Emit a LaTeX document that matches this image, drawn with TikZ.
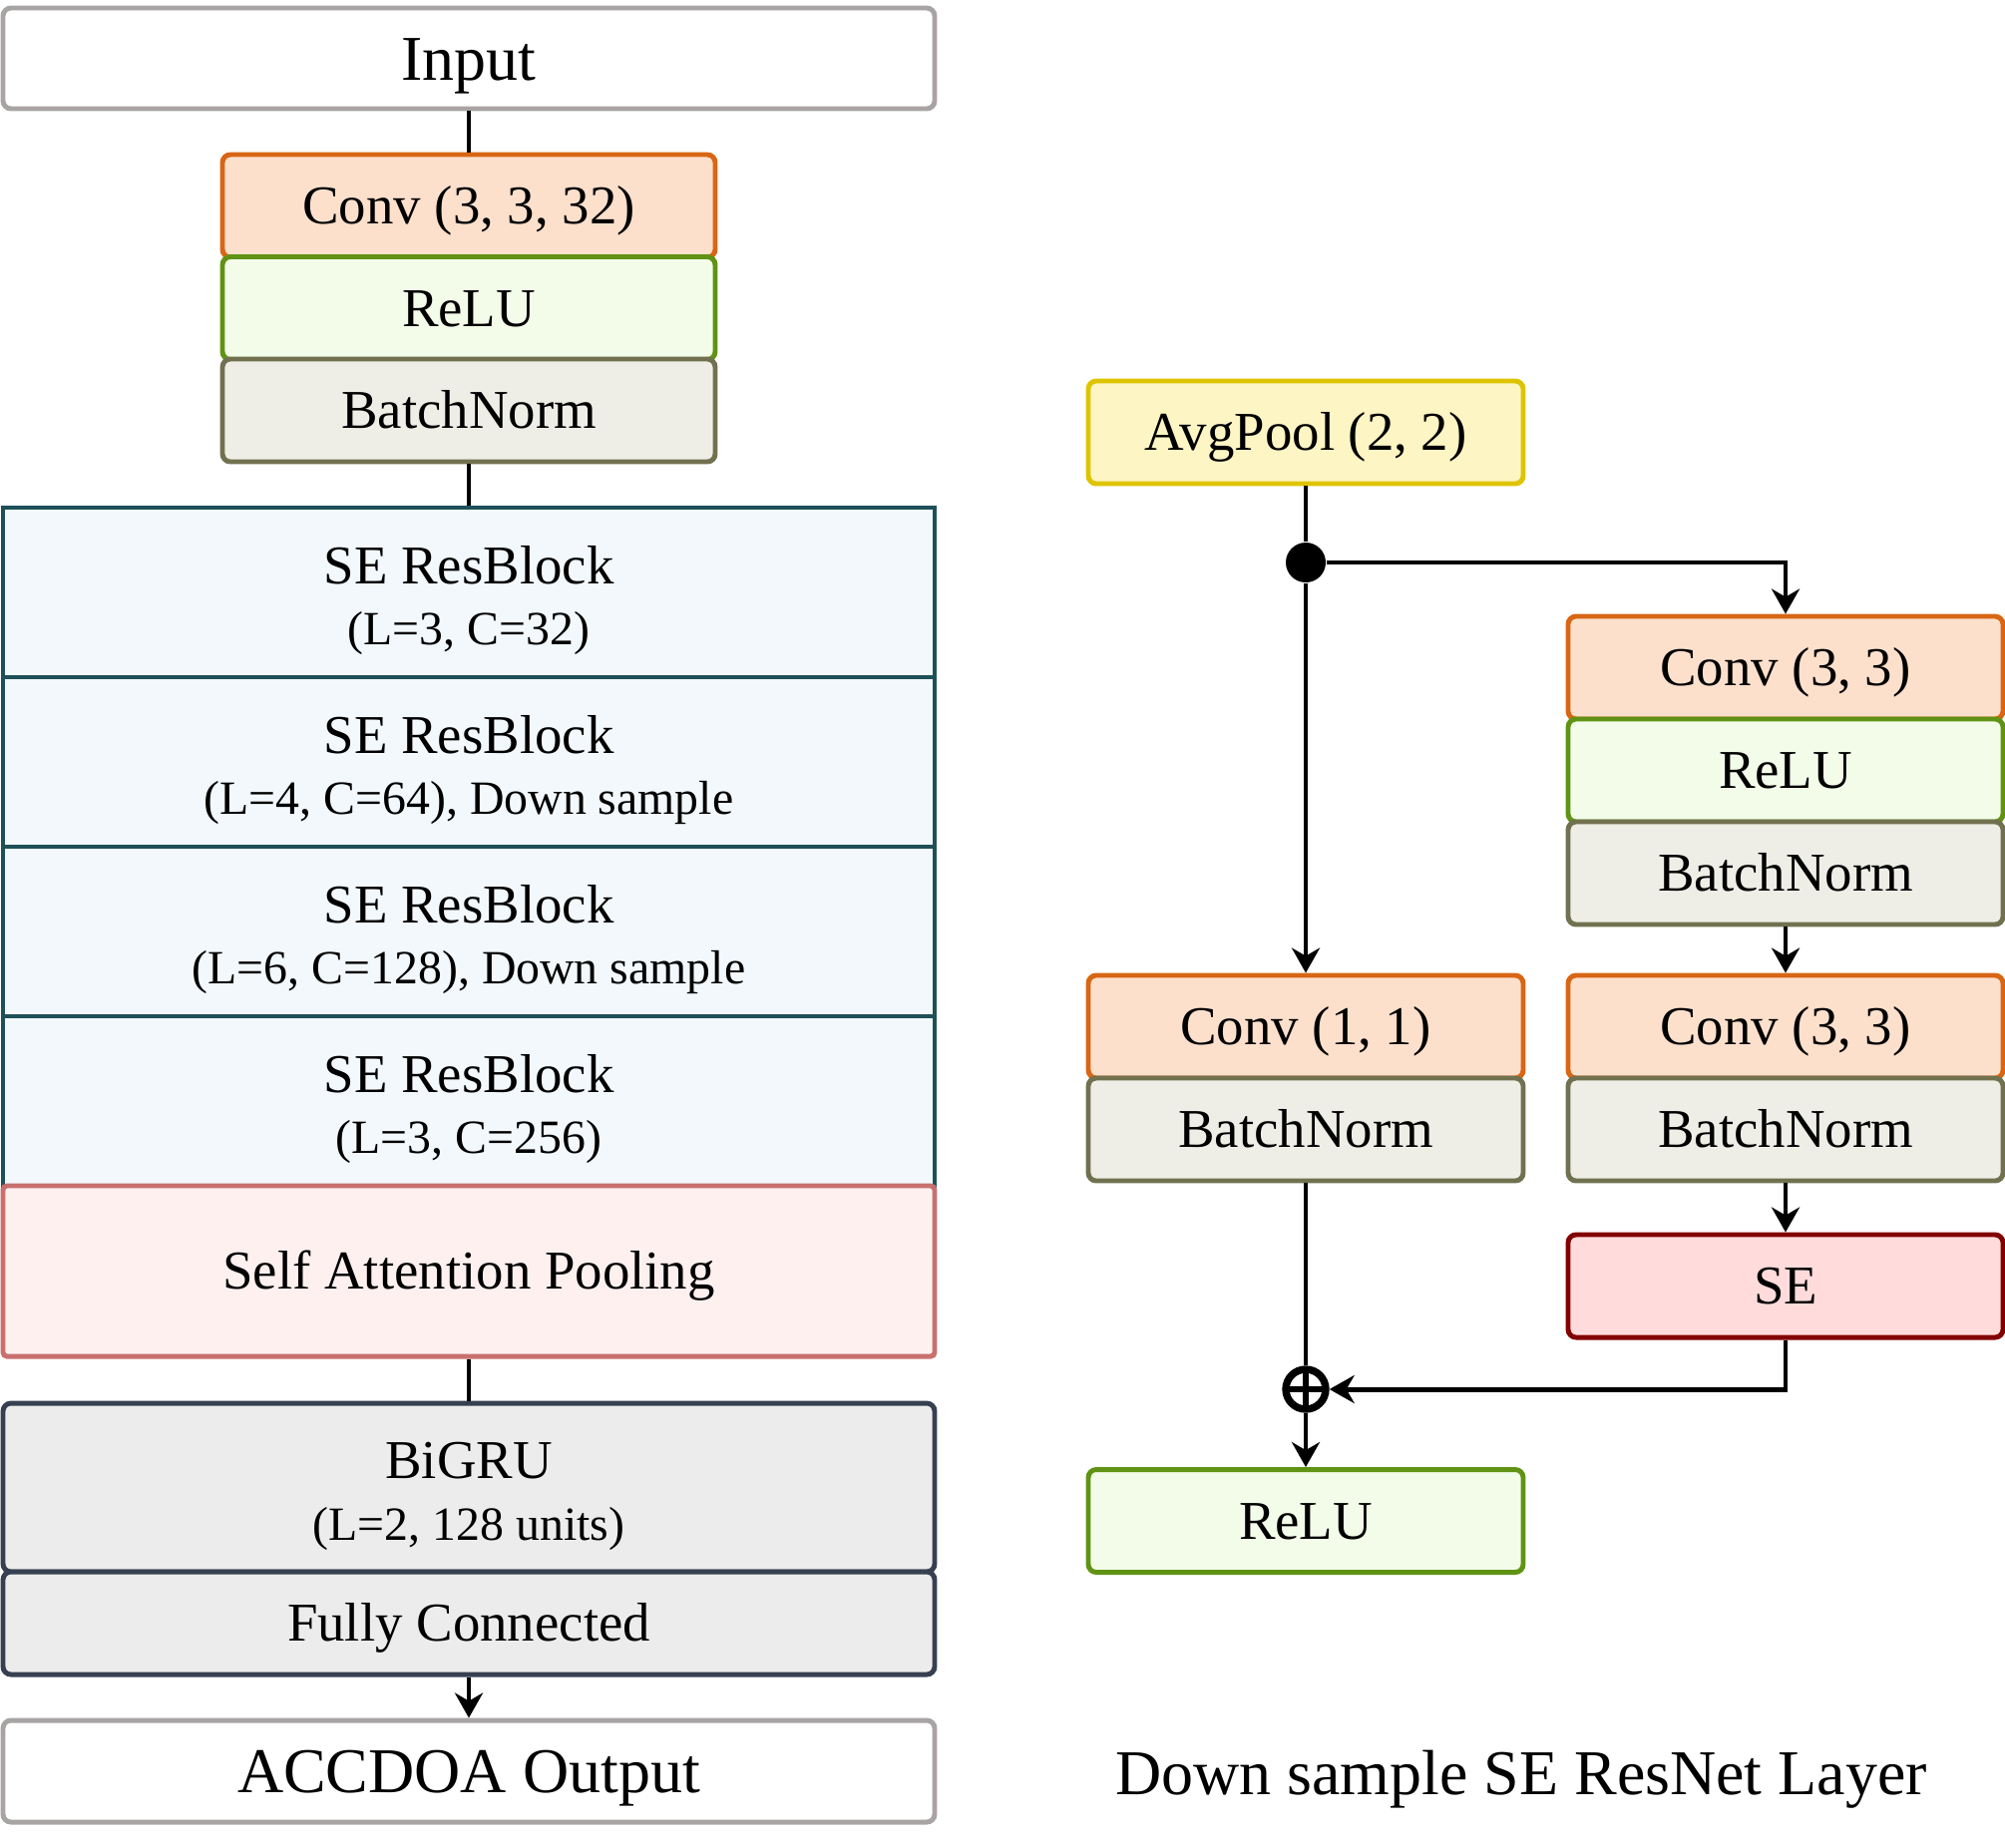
\documentclass[tikz,border=0pt]{standalone}
\usepackage{fontspec}
\setmainfont{Liberation Serif}
\usetikzlibrary{arrows.meta}

\definecolor{convfill}{RGB}{252,224,204}
\definecolor{convline}{RGB}{216,102,20}
\definecolor{relufill}{RGB}{243,251,233}
\definecolor{reluline}{RGB}{96,147,20}
\definecolor{bnfill}{RGB}{238,238,230}
\definecolor{bnline}{RGB}{113,113,80}
\definecolor{resfill}{RGB}{242,248,252}
\definecolor{resline}{RGB}{30,80,88}
\definecolor{sapfill}{RGB}{255,240,240}
\definecolor{sapline}{RGB}{200,112,110}
\definecolor{grufill}{RGB}{236,236,236}
\definecolor{gruline}{RGB}{54,64,80}
\definecolor{ioline}{RGB}{168,164,164}
\definecolor{poolfill}{RGB}{254,245,196}
\definecolor{poolline}{RGB}{222,196,0}
\definecolor{sefill}{RGB}{255,219,219}
\definecolor{seline}{RGB}{130,0,0}

\newcommand{\subline}[1]{{\fontsize{13.6}{17.5}\selectfont #1}}

\begin{document}
\begin{tikzpicture}[
    box/.style={draw, line width=1.4pt, rounded corners=0.08cm, minimum height=1.03cm, inner sep=0pt, align=center,
        font=\fontsize{15.6}{17.5}\selectfont, text height=13.9pt, text depth=3.4pt},
    twoline/.style={text height=1.15cm, text depth=0.10cm},
    small/.style={box, minimum width=4.36cm},
    full/.style={box, minimum width=9.34cm},
    conv/.style={fill=convfill, draw=convline},
    relu/.style={fill=relufill, draw=reluline},
    bn/.style={fill=bnfill, draw=bnline},
    res/.style={full, twoline, sharp corners, minimum height=1.70cm, fill=resfill, draw=resline},
    io/.style={full, draw=ioline, fill=white, font=\fontsize{18.2}{21}\selectfont, text height=16.2pt, text depth=3.9pt},
    link/.style={line width=1.4pt},
    arrow/.style={link, -{Stealth[length=0.25cm, width=0.28cm, inset=0.08cm]}}
]
\useasboundingbox (0,0) rectangle (20.10,-18.52);

\node[io, minimum height=1.01cm] (input) at (4.70,-0.585) {Input};
\node[box, conv, minimum width=4.94cm] (conv) at (4.70,-2.065) {Conv (3, 3, 32)};
\node[box, relu, minimum width=4.94cm] (relu) at (4.70,-3.09) {ReLU};
\node[box, bn, minimum width=4.94cm] (bn) at (4.70,-4.115) {BatchNorm};
\node[res] (se1) at (4.70,-5.94) {SE ResBlock\\\subline{(L=3, C=32)}};
\node[res] (se2) at (4.70,-7.64) {SE ResBlock\\\subline{(L=4, C=64), Down sample}};
\node[res] (se3) at (4.70,-9.34) {SE ResBlock\\\subline{(L=6, C=128), Down sample}};
\node[res] (se4) at (4.70,-11.04) {SE ResBlock\\\subline{(L=3, C=256)}};
\node[full, rounded corners=0.04cm, minimum height=1.71cm, fill=sapfill, draw=sapline] (sap) at (4.70,-12.745) {Self Attention Pooling};
\node[full, twoline, minimum height=1.69cm, fill=grufill, draw=gruline] (bigru) at (4.70,-14.915) {BiGRU\\\subline{(L=2, 128 units)}};
\node[full, fill=grufill, draw=gruline] (fc) at (4.70,-16.275) {Fully Connected};
\node[io, minimum height=1.02cm] (output) at (4.70,-17.76) {ACCDOA Output};

\draw[link] (input) -- (conv);
\draw[link] (bn) -- (se1);
\draw[link] (sap) -- (bigru);
\draw[arrow] (fc) -- (output);

\node[small, fill=poolfill, draw=poolline] (pool) at (13.09,-4.335) {AvgPool (2, 2)};
\node[circle, fill=black, inner sep=0pt, minimum size=0.40cm] (dot) at (13.09,-5.64) {};
\node[small, conv] (conva) at (17.90,-6.695) {Conv (3, 3)};
\node[small, relu] (relua) at (17.90,-7.725) {ReLU};
\node[small, bn] (bna) at (17.90,-8.755) {BatchNorm};
\node[small, conv] (convb) at (17.90,-10.295) {Conv (3, 3)};
\node[small, bn] (bnb) at (17.90,-11.325) {BatchNorm};
\node[small, fill=sefill, draw=seline] (se) at (17.90,-12.895) {SE};
\node[small, conv] (conv11) at (13.09,-10.295) {Conv (1, 1)};
\node[small, bn] (bnl) at (13.09,-11.325) {BatchNorm};
\node[circle, draw, line width=2.1pt, inner sep=0pt, minimum size=0.40cm,
      path picture={\draw[line width=1.7pt] (path picture bounding box.north) -- (path picture bounding box.south)
      (path picture bounding box.west) -- (path picture bounding box.east);}] (plus) at (13.09,-13.93) {};
\node[small, relu] (reluout) at (13.09,-15.25) {ReLU};

\draw[link] (pool) -- (dot);
\draw[arrow] (dot) -- (conv11);
\draw[arrow] (dot) -| (conva);
\draw[arrow] (bna) -- (convb);
\draw[arrow] (bnb) -- (se);
\draw[link] (bnl) -- (plus);
\draw[arrow] (se) |- (plus);
\draw[arrow] (plus) -- (reluout);

\node[font=\fontsize{18.2}{21}\selectfont, text height=16.2pt, text depth=3.9pt] (title) at (15.25,-17.78) {Down sample SE ResNet Layer};
\end{tikzpicture}
\end{document}
